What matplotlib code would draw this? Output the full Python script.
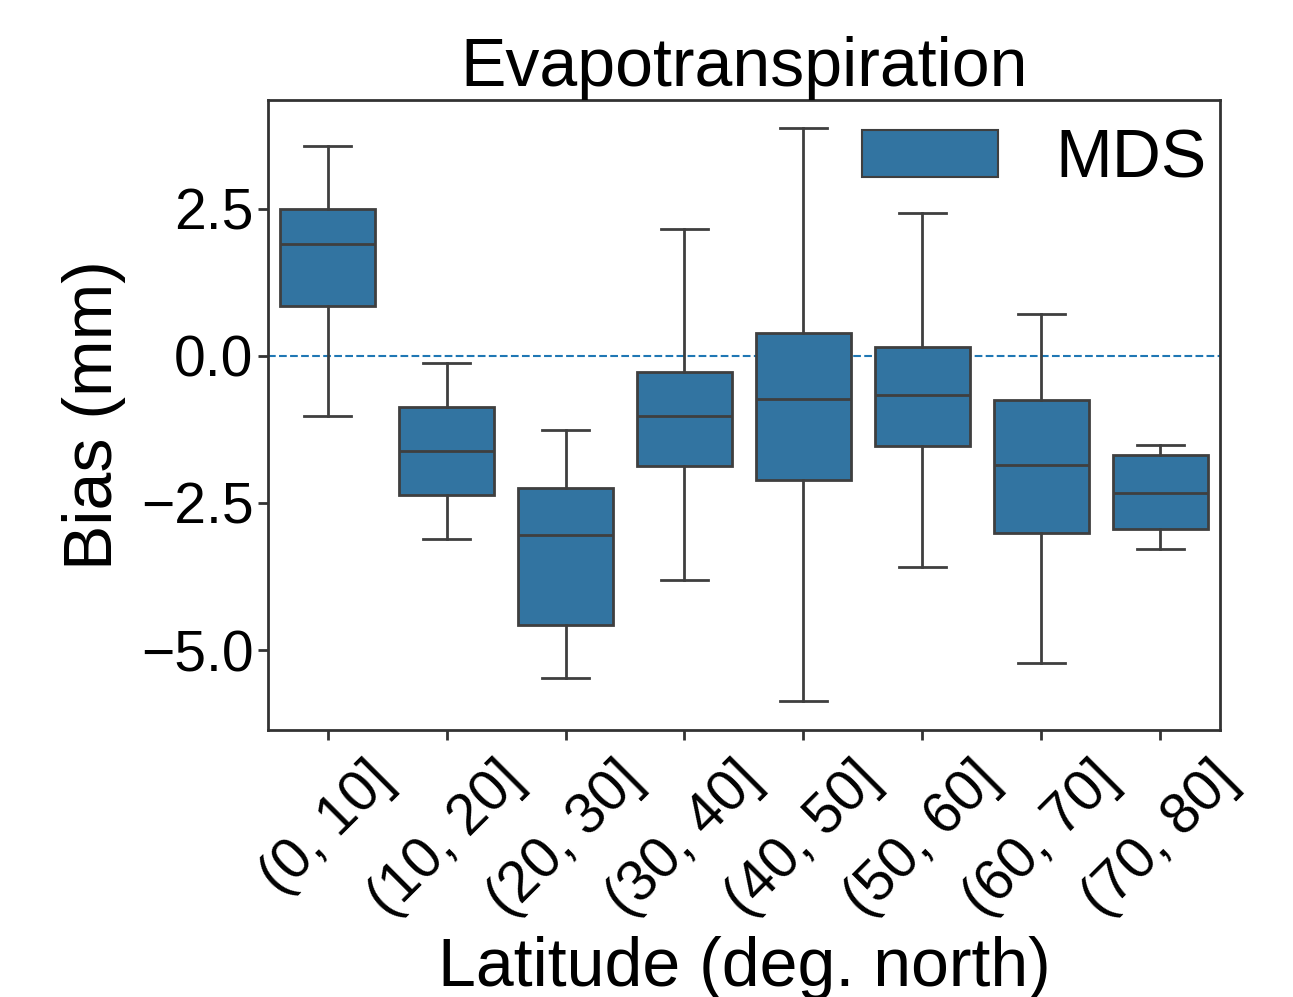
import numpy as np
import matplotlib
matplotlib.use("Agg")
import matplotlib.pyplot as plt
from matplotlib.patches import Patch

plt.rcParams['font.family'] = ['Liberation Sans', 'DejaVu Sans']

# 纬度分组及箱线图统计量
labels = ['(0, 10]', '(10, 20]', '(20, 30]', '(30, 40]',
          '(40, 50]', '(50, 60]', '(60, 70]', '(70, 80]']
whislo = [-1.02, -3.11, -5.48, -3.81, -5.87, -3.59, -5.22, -3.28]
q1 = [0.85, -2.36, -4.57, -1.87, -2.11, -1.53, -3.01, -2.94]
med = [1.90, -1.62, -3.04, -1.02, -0.73, -0.66, -1.85, -2.33]
q3 = [2.50, -0.87, -2.24, -0.27, 0.39, 0.15, -0.75, -1.68]
whishi = [3.57, -0.12, -1.26, 2.16, 3.88, 2.43, 0.71, -1.51]

box_color = '#3274a1'
edge = '#3f3f3f'

stats = []
for i in range(len(labels)):
    stats.append(dict(label=labels[i], whislo=whislo[i], q1=q1[i], med=med[i],
                      q3=q3[i], whishi=whishi[i], fliers=[]))

fig = plt.figure(figsize=(12.93, 9.97), dpi=100)
ax = fig.add_axes([0.2073, 0.2678, 0.7362, 0.6319])

ax.bxp(stats, positions=np.arange(len(labels)), widths=0.8, patch_artist=True,
       showfliers=False,
       boxprops=dict(facecolor=box_color, edgecolor=edge, linewidth=2),
       medianprops=dict(color=edge, linewidth=2),
       whiskerprops=dict(color=edge, linewidth=2),
       capprops=dict(color=edge, linewidth=2),
       capwidths=0.4)

ax.axhline(0, color='#1f77b4', linestyle='--', linewidth=1.5, zorder=0)

ax.set_xlim(-0.5, len(labels) - 0.5)
ax.set_ylim(-6.36, 4.35)
ax.set_yticks([-5.0, -2.5, 0.0, 2.5])
ax.set_xticks(np.arange(len(labels)))
ax.set_xticklabels(labels, rotation=45)
ax.tick_params(labelsize=41, width=2, length=7, color='#333333')
ax.tick_params(axis='x', pad=9)
for s in ax.spines.values():
    s.set_linewidth(2)
    s.set_color('#333333')

ax.set_title('Evapotranspiration', fontsize=49, pad=6)
ax.set_xlabel('Latitude (deg. north)', fontsize=49, labelpad=6)
ax.set_ylabel('Bias (mm)', fontsize=49, labelpad=11)

ax.legend(handles=[Patch(facecolor=box_color, edgecolor=edge, linewidth=1.5, label='MDS')],
          loc='upper right', bbox_to_anchor=(1.0, 0.978), fontsize=49, frameon=False,
          borderaxespad=0, borderpad=0.2, handlelength=2.0, handleheight=0.7,
          handletextpad=0.84)

fig.savefig('out.png', dpi=100)
